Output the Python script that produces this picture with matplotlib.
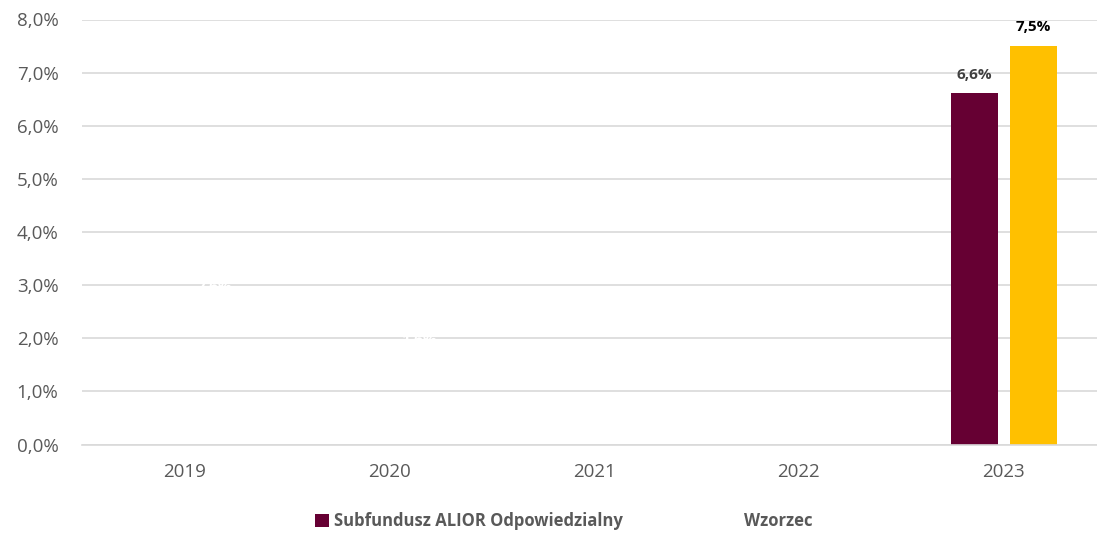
import matplotlib
matplotlib.use("Agg")
import matplotlib.pyplot as plt
from matplotlib.patches import Patch
import numpy as np

years = ["2019", "2020", "2021", "2022", "2023"]
fund_name = "Subfundusz ALIOR Odpowiedzialny"
bench_name = "Wzorzec"
fund_values = [np.nan, np.nan, np.nan, np.nan, 6.62]
bench_values = [2.63, 1.63, np.nan, np.nan, 7.51]
fund_labels = ["", "", "", "", "6,6%"]
bench_labels = ["2,6%", "1,6%", "", "", "7,5%"]
bench_colors = ["#FFFFFF", "#FFFFFF", "#FFFFFF", "#FFFFFF", "#FFC000"]
bench_label_colors = ["#FFFFFF", "#FFFFFF", "#FFFFFF", "#FFFFFF", "#000000"]
yticks = [0, 1, 2, 3, 4, 5, 6, 7, 8]
ytick_labels = ["0,0%", "1,0%", "2,0%", "3,0%", "4,0%", "5,0%", "6,0%", "7,0%", "8,0%"]

FONT = ["Open Sans", "DejaVu Sans"]
plt.rcParams["font.family"] = FONT

W, H = 1097, 540
fig = plt.figure(figsize=(W / 100, H / 100), dpi=100)
left, right = 82, 1106
bottom, top = 444.5, 19.5
ax = fig.add_axes([left / W, 1 - bottom / H, (right - left) / W, (bottom - top) / H])

x = np.arange(len(years))
bw = 0.23
off = 0.144
FUND_COLOR = "#660033"

ax.bar(x - off, fund_values, width=bw, color=FUND_COLOR, zorder=3)
bench_bars = ax.bar(x + off, bench_values, width=bw, color=bench_colors, zorder=3)
for patch, c in zip(bench_bars.patches, bench_colors):
    if c.upper() == "#FFFFFF":
        patch.set_zorder(0.5)

for i, (v, lab) in enumerate(zip(fund_values, fund_labels)):
    if lab and not np.isnan(v):
        ax.annotate(lab, (x[i] - off, v), xytext=(0, 8), textcoords="offset points",
                    ha="center", va="bottom", fontsize=11, fontweight="bold",
                    color="#404040", zorder=5)
for i, (v, lab) in enumerate(zip(bench_values, bench_labels)):
    if lab and not np.isnan(v):
        ax.annotate(lab, (x[i] + off, v), xytext=(0, 8), textcoords="offset points",
                    ha="center", va="bottom", fontsize=11, fontweight="bold",
                    color=bench_label_colors[i], zorder=5)

ax.set_xlim(-0.5, len(years) - 0.5)
ax.set_ylim(0, 8)
ax.set_yticks(yticks)
ax.set_yticklabels(ytick_labels)
ax.set_xticks(x)
ax.set_xticklabels(years)
ax.tick_params(axis="both", length=0, labelsize=13.5, colors="#595959")
ax.tick_params(axis="y", pad=17)
ax.tick_params(axis="x", pad=13)
ax.set_axisbelow(False)
ax.yaxis.grid(True, color="#D9D9D9", linewidth=1.2)
for gl in ax.get_ygridlines():
    gl.set_zorder(1)
for s in ["top", "right", "left"]:
    ax.spines[s].set_visible(False)
ax.spines["bottom"].set_color("#D9D9D9")
ax.spines["bottom"].set_linewidth(1.2)
ax.spines["bottom"].set_zorder(4)

handles = [Patch(facecolor=FUND_COLOR, label=fund_name),
           Patch(facecolor="#FFFFFF", label=bench_name)]
leg = fig.legend(handles=handles, loc="center", bbox_to_anchor=(0.514, 1 - 521 / H),
                 ncol=2, frameon=False, handlelength=0.8, handleheight=0.8,
                 handletextpad=0.3, columnspacing=6.2,
                 prop={"family": FONT, "weight": "bold", "size": 12})
for t in leg.get_texts():
    t.set_color("#595959")

fig.savefig("out.png", dpi=100)
